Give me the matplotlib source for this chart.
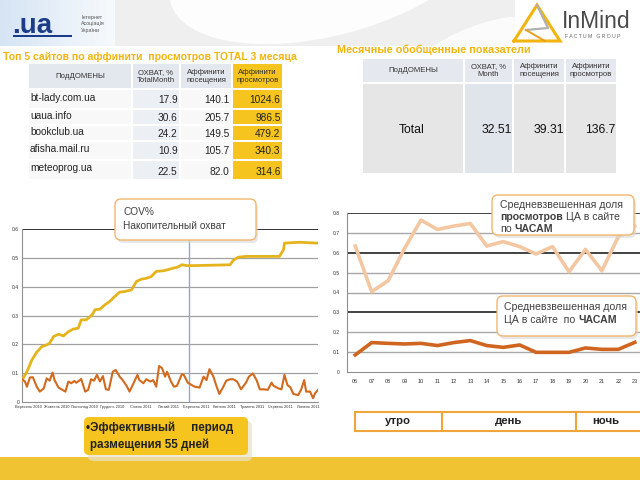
import matplotlib
matplotlib.use('Agg')
import matplotlib.pyplot as plt
from matplotlib.patches import FancyBboxPatch, Rectangle, Polygon, Ellipse
import numpy as np

plt.rcParams['font.family'] = ['Liberation Sans', 'DejaVu Sans']

# ---------------- data ----------------
top_sites = ['bt-lady.com.ua', 'uaua.info', 'bookclub.ua', 'afisha.mail.ru', 'meteoprog.ua']
top_reach = ['17.9', '30.6', '24.2', '10.9', '22.5']
top_aff_visit = ['140.1', '205.7', '149.5', '105.7', '82.0']
top_aff_view = ['1024.6', '986.5', '479.2', '340.3', '314.6']

month_label = 'Total'
month_values = ['32.51', '39.31', '136.7']

cum_days = [0, 5, 10, 15, 20, 25, 28, 32, 37, 42, 47, 52, 57, 60, 65, 71, 74, 79, 84, 89,
            94, 99, 104, 111, 116, 121, 126, 131, 136, 143, 148, 153, 158, 162, 167, 173,
            187, 200, 211, 214, 219, 227, 241, 261, 265, 266, 281, 300]
cum_reach = [0.076, 0.105, 0.146, 0.173, 0.192, 0.198, 0.204, 0.227, 0.235, 0.229, 0.244,
             0.253, 0.256, 0.285, 0.285, 0.302, 0.320, 0.322, 0.337, 0.349, 0.366, 0.381,
             0.383, 0.389, 0.418, 0.426, 0.429, 0.435, 0.453, 0.455, 0.459, 0.464, 0.468,
             0.476, 0.473, 0.473, 0.474, 0.475, 0.476, 0.491, 0.502, 0.505, 0.505, 0.505,
             0.528, 0.551, 0.554, 0.551]

cov_days = [0, 3, 5, 8, 11, 15, 18, 22, 25, 28, 31, 33, 37, 40, 44, 47, 50, 53, 55, 58, 60,
            64, 67, 70, 73, 76, 79, 82, 85, 88, 92, 95, 99, 102, 106, 109, 113, 117, 119,
            123, 126, 130, 133, 136, 139, 142, 145, 147, 151, 154, 157, 162, 164, 168, 172,
            175, 180, 184, 187, 190, 194, 197, 200, 204, 207, 211, 214, 218, 222, 227, 230,
            234, 238, 241, 245, 249, 253, 255, 260, 263, 266, 269, 272, 275, 280, 283, 286,
            288, 292, 295, 297, 300]
cov_value = [0.079, 0.071, 0.053, 0.085, 0.086, 0.053, 0.036, 0.047, 0.082, 0.074, 0.102,
             0.076, 0.050, 0.044, 0.036, 0.071, 0.065, 0.073, 0.067, 0.074, 0.080, 0.036,
             0.042, 0.079, 0.074, 0.094, 0.071, 0.090, 0.044, 0.042, 0.105, 0.111, 0.088,
             0.076, 0.056, 0.036, 0.065, 0.094, 0.076, 0.065, 0.079, 0.071, 0.076, 0.053,
             0.125, 0.117, 0.088, 0.105, 0.071, 0.053, 0.056, 0.096, 0.094, 0.067, 0.059,
             0.053, 0.050, 0.088, 0.076, 0.114, 0.088, 0.056, 0.028, 0.053, 0.074, 0.079,
             0.079, 0.071, 0.044, 0.067, 0.088, 0.099, 0.074, 0.044, 0.044, 0.042, 0.067,
             0.056, 0.047, 0.044, 0.094, 0.059, 0.051, 0.028, 0.024, 0.044, 0.076, 0.036,
             0.036, 0.013, 0.030, 0.042]
campaign_day = 169
date_labels = ['Вересень 2010', 'Жовтень 2010', 'Листопад 2010', 'Грудень 2010',
               'Січень 2011', 'Лютий 2011', 'Березень 2011', 'Квітень 2011',
               'Травень 2011', 'Червень 2011', 'Липень 2011']

hours = ['06', '07', '08', '09', '10', '11', '12', '13', '14', '15', '16', '17', '18',
         '19', '20', '21', '22', '23']
views_share = [0.633, 0.404, 0.459, 0.621, 0.763, 0.716, 0.733, 0.746, 0.633, 0.655,
               0.630, 0.593, 0.630, 0.504, 0.616, 0.509, 0.680, 0.733]
ta_share = [0.087, 0.149, 0.145, 0.142, 0.145, 0.134, 0.149, 0.159, 0.134, 0.125, 0.137,
            0.100, 0.100, 0.100, 0.122, 0.115, 0.115, 0.150]

# ---------------- figure ----------------
W, H = 640, 480
fig = plt.figure(figsize=(6.4, 4.8), dpi=100)
renderer = fig.canvas.get_renderer()


def px_axes(x0, y0, x1, y1, **kw):
    return fig.add_axes([x0 / W, 1 - y1 / H, (x1 - x0) / W, (y1 - y0) / H], **kw)


def overlay(z):
    a = px_axes(0, 0, W, H, zorder=z)
    a.set_xlim(0, W)
    a.set_ylim(H, 0)
    a.axis('off')
    return a


bg = overlay(0)
fg = overlay(10)

GOLD = '#F2B50F'
YEL = '#F6C41F'

# header background
bg.add_patch(Rectangle((115, 0), 400, 46, fc='#EFEFEF', ec='none'))
bg.add_patch(Ellipse((330, -40), 330, 150, angle=-15, fc='white', ec='none', alpha=0.9))
bg.add_patch(Ellipse((470, 60), 160, 60, angle=-25, fc='white', ec='none', alpha=0.8))
grad = np.linspace(0, 1, 100)[None, :]
bg.imshow(grad, extent=[0, 115, 46, 0], aspect='auto',
          cmap=matplotlib.colors.LinearSegmentedColormap.from_list('g', ['#D6E4F4', '#F7FAFD']))
bg.set_xlim(0, W)
bg.set_ylim(H, 0)
bg.text(12, 33, '.ua', fontsize=20, fontweight='bold', color='#1B3C87', va='baseline', ha='left')
bg.add_patch(Rectangle((13, 35), 59, 2.0, fc='#1B3C87', ec='none'))
bg.text(81, 24, 'Інтернет\nАсоціація\nУкраїни', fontsize=3.8, color='#555555', va='center',
        ha='left', linespacing=1.3)

# InMind logo
bg.plot([514, 537, 560, 514], [41, 5, 41, 41], color=GOLD, lw=2.2, solid_joinstyle='miter')
bg.plot([537, 548, 526], [5, 28, 30], color='#B0B0B0', lw=1.6)
bg.plot([526, 545], [30, 41], color='#E8A020', lw=1.4)
bg.text(562, 21, 'InMind', fontsize=16.5, color='#4A4A4A', va='center', ha='left')
bg.text(565, 36, 'F A C T U M   G R O U P', fontsize=3.7, color='#666666', va='center', ha='left')

# titles
bg.text(3, 57, 'Топ 5 сайтов по аффинити  просмотров TOTAL 3 месяца', fontsize=7.6,
        fontweight='bold', color=GOLD, va='center', ha='left')
bg.text(337, 50, 'Месячные обобщенные показатели', fontsize=7.8, fontweight='bold',
        color=GOLD, va='center', ha='left')

# ---------------- left table ----------------
cols = [28, 132, 180, 232, 283]
rows = [64, 89, 109, 125, 141, 160, 180]
head_bg = ['#E3E7EE', '#E3E7EE', '#E3E7EE', YEL]
body_bg = ['#F8F8F8', '#ECEFF4', '#F8F8F8', YEL]
for ci in range(4):
    bg.add_patch(Rectangle((cols[ci] + 0.8, rows[0]), cols[ci + 1] - cols[ci] - 1.6,
                           rows[1] - rows[0] - 1, fc=head_bg[ci], ec='none'))
    for ri in range(1, 6):
        bg.add_patch(Rectangle((cols[ci] + 0.8, rows[ri] + 0.6), cols[ci + 1] - cols[ci] - 1.6,
                               rows[ri + 1] - rows[ri] - 1.2, fc=body_bg[ci], ec='none'))
heads = ['ПодДОМЕНЫ', 'ОХВАТ, %\nTotalMonth', 'Аффинити\nпосещения', 'Аффинити\nпросмотров']
for ci, h in enumerate(heads):
    bg.text((cols[ci] + cols[ci + 1]) / 2, 76.5, h, fontsize=5.6, color='#333333',
            ha='center', va='center', linespacing=1.2)
for ri in range(5):
    yc = (rows[ri + 1] + rows[ri + 2]) / 2
    ytxt = yc - 2 if ri == 4 else yc - 1
    bg.text(30, ytxt, top_sites[ri], fontsize=7.3, color='#222222', ha='left', va='center')
    ynum = yc + 2 if ri == 4 else yc + 1
    for ci, vals in enumerate([top_reach, top_aff_visit, top_aff_view]):
        bg.text(cols[ci + 2] - 2.5, ynum, vals[ri], fontsize=7.3, color='#222222',
                ha='right', va='center')

# ---------------- right table ----------------
rc = [362, 464, 513, 565, 617]
rr = [59, 83, 173]
rhead_bg = ['#E5E9EF', '#E5E9EF', '#E5E9EF', '#E5E9EF']
rbody_bg = ['#E6E6E6', '#E0E4EB', '#E6E6E6', '#E6E6E6']
for ci in range(4):
    bg.add_patch(Rectangle((rc[ci] + 0.8, rr[0]), rc[ci + 1] - rc[ci] - 1.6, rr[1] - rr[0] - 1,
                           fc=rhead_bg[ci], ec='none'))
    bg.add_patch(Rectangle((rc[ci] + 0.8, rr[1] + 1), rc[ci + 1] - rc[ci] - 1.6, rr[2] - rr[1] - 1,
                           fc=rbody_bg[ci], ec='none'))
rheads = ['ПодДОМЕНЫ', 'ОХВАТ, %\nMonth', 'Аффинити\nпосещения', 'Аффинити\nпросмотров']
for ci, h in enumerate(rheads):
    bg.text((rc[ci] + rc[ci + 1]) / 2, 71, h, fontsize=5.6, color='#333333',
            ha='center', va='center', linespacing=1.2)
bg.text(412, 130, month_label, fontsize=8.8, color='#111111', ha='center', va='center')
for ci, v in enumerate(month_values):
    bg.text(rc[ci + 2] - 1, 130, v, fontsize=8.8, color='#111111', ha='right', va='center')

# ---------------- left chart ----------------
axL = px_axes(22, 229, 318, 402, zorder=2)
axL.set_xlim(0, 300)
axL.set_ylim(0, 0.6)
axL.patch.set_alpha(0)
for yv in [0.1, 0.2, 0.3, 0.4, 0.5]:
    axL.axhline(yv, color='#A0A0A0', lw=0.9, zorder=1)
axL.axhline(0.6, color='#222222', lw=1.3, zorder=1)
axL.axvline(campaign_day, color='#8DA7D6', lw=1.0, zorder=2)
axL.plot(cum_days, cum_reach, color='#E5B41C', lw=2.0, zorder=3)
axL.plot(cov_days, cov_value, color='#D26A1E', lw=1.5, zorder=3)
for s in ['top', 'right']:
    axL.spines[s].set_visible(False)
for s in ['left', 'bottom']:
    axL.spines[s].set_color('#909090')
    axL.spines[s].set_linewidth(0.8)
axL.set_yticks([0, 0.1, 0.2, 0.3, 0.4, 0.5, 0.6])
axL.set_yticklabels(['0', '0.1', '0.2', '0.3', '0.4', '0.5', '0.6'], fontsize=3.6, color='#333333')
axL.set_xticks([6.4 + 28.4 * k for k in range(len(date_labels))])
axL.set_xticklabels(date_labels, fontsize=2.8, color='#333333')
axL.tick_params(length=0, pad=2)

# ---------------- right chart ----------------
axR = px_axes(347, 212.7, 643, 372.3, zorder=2)
axR.set_xlim(-0.5, 17.5)
axR.set_ylim(0, 0.8)
axR.patch.set_alpha(0)
for yv in [0.1, 0.2, 0.4, 0.5, 0.7]:
    axR.axhline(yv, color='#A8A8A8', lw=1.0, zorder=1)
for yv in [0.3, 0.6, 0.8]:
    axR.axhline(yv, color='#333333', lw=1.3, zorder=1)
x = np.arange(len(hours))
axR.plot(x, views_share, color='#F3C7A2', lw=2.6, zorder=3)
axR.plot(x, ta_share, color='#D0651F', lw=2.6, zorder=3)
for s in ['top', 'right']:
    axR.spines[s].set_visible(False)
for s in ['left', 'bottom']:
    axR.spines[s].set_color('#909090')
    axR.spines[s].set_linewidth(0.8)
axR.set_yticks([0, 0.1, 0.2, 0.3, 0.4, 0.5, 0.6, 0.7, 0.8])
axR.set_yticklabels(['0', '0.1', '0.2', '0.3', '0.4', '0.5', '0.6', '0.7', '0.8'],
                    fontsize=3.6, color='#333333')
axR.set_xticks(x)
axR.set_xticklabels(hours, fontsize=4, color='#333333')
axR.tick_params(length=0, pad=5)

# ---------------- callouts ----------------

def callout(x0, y0, x1, y1):
    fg.add_patch(FancyBboxPatch((x0 + 2, y0 + 3), x1 - x0, y1 - y0,
                                boxstyle='round,pad=0,rounding_size=6', fc='#D8D8D8',
                                ec='none', alpha=0.6))
    fg.add_patch(FancyBboxPatch((x0, y0), x1 - x0, y1 - y0,
                                boxstyle='round,pad=0,rounding_size=6', fc='white',
                                ec='#F2B66A', lw=1.0))


px_per = W / fig.bbox.width


def rich(x, y, parts, size, color='#404040'):
    for txt, bold in parts:
        t = fg.text(x, y, txt, fontsize=size, fontweight='bold' if bold else 'normal',
                    color=color, ha='left', va='center')
        bb = t.get_window_extent(renderer)
        x += bb.width * px_per + size * 1.389 * 0.3


callout(115, 199, 256, 240)
fg.text(123, 212, 'COV%', fontsize=7.3, color='#404040', ha='left', va='center')
fg.text(123, 226, 'Накопительный охват', fontsize=7.3, color='#404040', ha='left', va='center')

callout(492, 195, 634, 235)
rich(500, 205, [('Средневзвешенная доля', False)], 7.6)
rich(500, 217, [('просмотров', True), ('ЦА в сайте', False)], 7.6)
rich(500, 229, [('по', False), ('ЧАСАМ', True)], 7.6)

callout(497, 296, 636, 336)
rich(504, 307, [('Средневзвешенная доля', False)], 7.6)
rich(504, 320, [('ЦА в сайте  по', False), ('ЧАСАМ', True)], 7.6)

# effective period box
fg.add_patch(FancyBboxPatch((88, 421), 164, 40, boxstyle='round,pad=0,rounding_size=5',
                            fc='#E9E2C8', ec='none', alpha=0.7))
fg.add_patch(FancyBboxPatch((84, 417), 164, 38, boxstyle='round,pad=0,rounding_size=5',
                            fc=YEL, ec='none'))
fg.text(86, 428, '•Эффективный     период', fontsize=8.4, fontweight='bold', color='#222222',
        ha='left', va='center')
fg.text(90, 445, 'размещения 55 дней', fontsize=8.4, fontweight='bold', color='#222222',
        ha='left', va='center')

# day parts
fg.add_patch(Rectangle((355, 412), 290, 19, fc='white', ec='#F0A53A', lw=1.5))
for xd in [442, 576]:
    fg.plot([xd, xd], [412, 431], color='#F0A53A', lw=1.5)
for xc, lab in [(398, 'утро'), (509, 'день'), (606, 'ночь')]:
    fg.text(xc, 421.5, lab, fontsize=8.2, fontweight='bold', color='#222222',
            ha='center', va='center')

# bottom band
bg.add_patch(Rectangle((0, 457), W, 23, fc='#F0C332', ec='none'))

fig.savefig('out.png', dpi=100)
